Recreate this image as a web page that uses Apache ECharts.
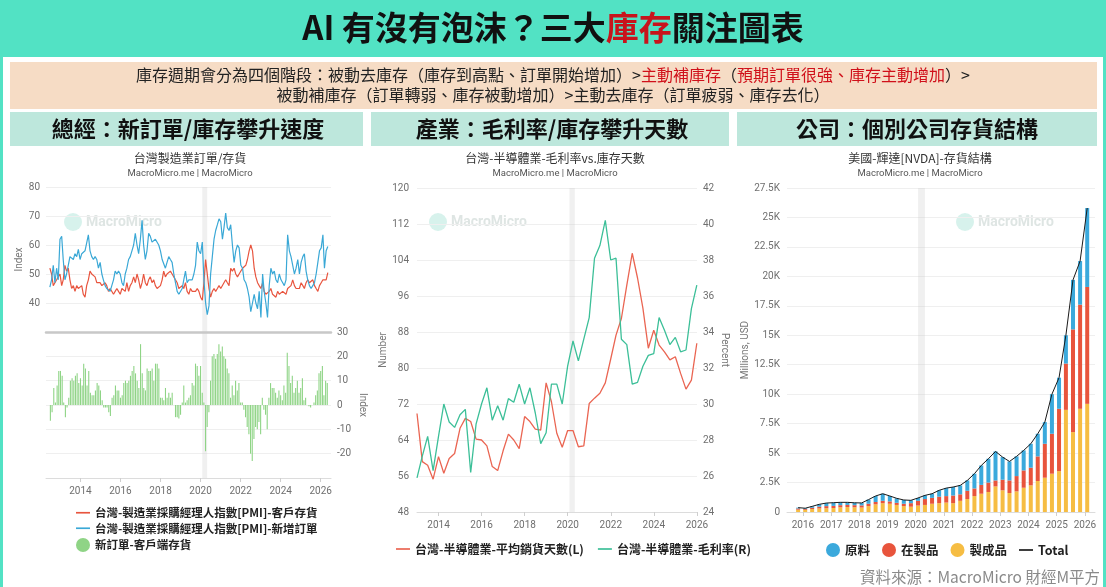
<!DOCTYPE html>
<html><head><meta charset="utf-8">
<script src="https://cdn.jsdelivr.net/npm/echarts@6/dist/echarts.min.js"></script>
<style>html,body{margin:0;padding:0;background:#52e2c4}#c{width:1106px;height:587px}</style>
</head><body><div id="c"></div>
<script>
// ---------- DATA ----------
// Left: Taiwan manufacturing PMI, monthly from 2012-07
const pmiStart = [2012, 7];
const pmiNewOrders = [
 45.5,48,53,47,52,48,
 62,63,55,48,50,53,56,56,55,57,56,58.5,
 55,57,57,58,58,63.5,58,56,55,56,55,52,
 54,50,48,46,45,45,44,46,48,51,50,51,
 50,47,46,50,52,55,56,58,60,64,60,57,
 62,68.5,60,55,58,64,63,61,61,62,62.5,60,
 58,55,55,52,54,56,55,54,50,47,44,43,
 42.5,45,48,51,47,48,47.5,48,50,53,61,58,
 57,61,48,40,36,39,50,56,62,65,67,69,
 68,62,66,71,66,65,67,60,54,58,60,59,
 53,52,48,47,45,42,37,40,43,40,38,44,
 35,50,44,40,35,46,52,50,51,48,47,50,
 48,47,46,48,63.5,58,56,56,50,52,55,50,
 54,56,57,51,48,46,45,46,47,50,54,58,
 59,63.5,52,58,59.5];
const pmiInventory = [
 52,50,46,47,48,49,
 50,46,48,53,51,52,48,45,46,44,46,45,
 45,46,43,42,46,48,51,50,50,49,47,47,
 47,46,46,47,46,44,45,45,43,44,45,44,
 43,45,45,44,47,44,46,47,49,47,50,48,
 45,47,50,47,46,48,49,47,48,46,45,45,
 46,48,51,49,50,50,51,50,49,48,47,45,
 45,46,45,47,44,43,45,44,44,44,45,44,
 42,41,47,55,50,45,42,44,45,44,45,46,
 45,45,47,48,47,46,52,51,52,50,49,50,
 50,52,52,53,55,58,60,58,52,49,47,46,
 45,47,44,43,43,44,45,43,43,42,44,43,
 43,44,44,43,45,45,46,48,46,45,45,45,
 47,46,45,47,48,47,47,48,46,45,44,46,
 47,48,48,48,50.5];
const orderMinusInventory = [
 -6.5,-3,7,1,8,14,
 14,12,1,-5,-1,3,10,11,10,12,13,9,
 11,8,17,15,8,14,5,4,4,6,9,8,
 6,2,-1,-1,-1,-3,-4.5,3,4,8,6,6,
 3,4,9,10,9,10,12,14,16,13,10,7,
 25,13,7,6,15,14,14,15,10,17,17,15,
 3,3,2,7,3,5,3,5,0,-5,-5,-5.5,
 -4,1,8,1,2,3,4,9,8,17,16,12,
 16,5,1,-19,-9,-3,10,20,21,19,21,25,
 22,24,20,19,15,13,3,8,4,10,6,9,
 1,1,-2,-5,-9,-12,-20,-23,-14,-9,-10,-7,
 -12,3,-2,-4,-10,3,9,7,7,5,3,6,
 4,2,8,5,21.5,16,9,12,5,7,10,5,
 7,11,2,3,0,-0.5,-1,0,1,4,6,13,
 14,16,4,10,9];
// Middle: Taiwan semiconductors, quarterly (quarter end) from 2012-12
const semiStart = [2012, 12];
const semiDays = [69.9,59.2,58.4,55.3,60.3,56.6,59.9,61,66.6,68.8,
 68.1,64.2,64,62.7,58.1,57.2,61.6,65.3,64,62.1,
 69.2,68.1,66.4,66.2,76.7,72.5,65.5,62.4,66.1,66.1,
 62.5,62.7,72.1,73.3,74.4,76.7,82,87.3,91,98.4,
 105.5,100,93.3,84.4,88.4,85.1,83.6,81.8,82.5,78.8,
 75.3,77.3,85.5];
const semiMargin = [25.9,27.1,28.2,26.3,28.2,30,29,28.7,29.4,29.7,
 26.2,28.9,30,30.9,29.1,29.9,29.1,30.3,30.1,31.1,
 30,30.9,29.5,27.8,28.4,31.1,31.1,30,32.1,33.5,
 32.4,33.6,34.8,38.1,38.8,40.2,38,38.1,33.6,33.3,
 31.1,31.2,32.1,32.7,32.8,34.8,34.1,33.3,33.7,32.9,
 33,35.3,36.6];
// Right: NVDA inventory (millions USD), quarterly from 2015-10
const nvdaStart = [2015, 10];
const nvdaFinished = [200,180,250,300,320,340,400,420,400,380,500,650,750,700,600,500,450,550,600,700,750,800,750,950,1100,1350,1550,1700,2170,1840,1610,1750,2060,2260,2630,2910,3250,3470,8670,6780,8760,9180];
const nvdaWip = [100,70,110,150,180,180,180,180,180,180,200,200,200,200,180,200,300,400,500,500,550,550,650,550,700,650,750,800,510,900,1070,1300,1470,1500,2090,2880,3390,5290,3930,8720,8840,9920];
const nvdaRaw = [70,70,120,200,260,270,240,220,200,210,350,510,600,460,380,320,240,240,310,350,540,680,720,760,880,1250,1650,2020,2460,1920,1610,1670,1700,2030,1920,1840,3360,2640,2400,4200,3700,6700];
const nvdaTotal = [370,320,480,650,760,790,820,820,780,770,1050,1360,1550,1360,1160,1020,990,1190,1410,1550,1840,2030,2120,2260,2680,3250,3950,4520,5140,4660,4290,4720,5230,5790,6640,7630,10000,11400,15000,19700,21300,25800];
const recession = ['2020-02-01', '2020-04-30'];

// ---------- helpers ----------
const pad = n => String(n).padStart(2, '0');
function dates(start, step, n, monthEnd) {
  const out = [];
  for (let i = 0; i < n; i++) {
    const k = start[1] - 1 + i * step;
    const y = start[0] + Math.floor(k / 12), m = k % 12 + 1;
    const d = monthEnd ? new Date(y, m, 0).getDate() : 1;
    out.push(`${y}-${pad(m)}-${pad(d)}`);
  }
  return out;
}
const pmiDates = dates(pmiStart, 1, pmiNewOrders.length, false);
const semiDates = dates(semiStart, 3, semiDays.length, true);
const nvdaDates = dates(nvdaStart, 3, nvdaTotal.length, true);
const pair = (ds, vs) => ds.map((d, i) => [d, vs[i]]);

const CJK = '"Noto Sans CJK TC","Noto Sans",sans-serif';
const YEAR = 365 * 24 * 3600 * 1000;
const LINE_ICON = 'path://M0,0H20V2.4H0Z';
const yearFmt = v => String(new Date(v).getFullYear());
const band = { silent: true, itemStyle: { color: 'rgba(200,200,200,0.28)' }, data: [[{ xAxis: recession[0] }, { xAxis: recession[1] }]] };
const lbl = { color: '#6f6f6f', fontSize: 10, fontFamily: 'Roboto,sans-serif' };
const split = { show: true, lineStyle: { color: '#efefef', width: 1 } };
const nameStyle = { color: '#777', fontSize: 10, fontFamily: 'Roboto,sans-serif' };

function timeAxis(grid, min, max, step, showLabel) {
  return {
    type: 'time', gridIndex: grid, min, max, minInterval: step, maxInterval: step,
    axisLine: { show: true, onZero: false, lineStyle: { color: '#dcdcdc' } },
    axisTick: { show: showLabel, length: 4, lineStyle: { color: '#cfcfcf' } },
    axisLabel: Object.assign({ show: showLabel, formatter: yearFmt, margin: 8, hideOverlap: false }, lbl),
    splitLine: { show: false }
  };
}

function watermark(x) {
  return [
    { type: 'circle', shape: { cx: x, cy: 222, r: 9 }, style: { fill: 'rgba(110,210,185,0.28)' }, z: -5, silent: true },
    { type: 'text', x: x + 13, y: 222, z: -5, silent: true,
      style: { text: 'MacroMicro', font: 'bold 14px Roboto,sans-serif', fill: 'rgba(160,180,175,0.35)', verticalAlign: 'middle', textVerticalAlign: 'middle' } }
  ];
}
function ctext(x, y, text, font, fill, align) {
  return { type: 'text', x, y, z: 10, silent: true,
    style: { text, font, fill, align: align || 'center', textAlign: align || 'center', verticalAlign: 'middle', textVerticalAlign: 'middle' } };
}

const chart = echarts.init(document.getElementById('c'), null, { width: 1106, height: 587 });
chart.setOption({
  animation: false,
  backgroundColor: '#52e2c4',
  textStyle: { fontFamily: CJK },
  title: [
    { left: 'center', top: 5, padding: 0,
      text: '{a|AI 有沒有泡沫？三大}{r|庫存}{a|關注圖表}',
      textStyle: { rich: {
        a: { fontSize: 33, fontWeight: 'bold', color: '#111', fontFamily: CJK, lineHeight: 44 },
        r: { fontSize: 33, fontWeight: 'bold', color: '#c8141c', fontFamily: CJK, lineHeight: 44 } } } },
    { left: 'center', top: 65, padding: 0,
      text: '{k|庫存週期會分為四個階段：被動去庫存（庫存到高點、訂單開始增加）>}{r|主動補庫存}{k|（}{r|預期訂單很強、庫存主動增加}{k|）>}',
      textStyle: { fontWeight: 'normal', rich: {
        k: { fontSize: 16, fontWeight: 'normal', color: '#222', fontFamily: CJK, lineHeight: 20 },
        r: { fontSize: 16, fontWeight: 'normal', color: '#d0101a', fontFamily: CJK, lineHeight: 20 } } } },
    { left: 'center', top: 85, padding: 0,
      text: '被動補庫存（訂單轉弱、庫存被動增加）>主動去庫存（訂單疲弱、庫存去化）',
      textStyle: { fontSize: 16, color: '#222', fontWeight: 'normal', fontFamily: CJK, lineHeight: 20 } }
  ],
  graphic: { elements: [
    { type: 'rect', shape: { x: 3, y: 57, width: 1100, height: 530 }, style: { fill: '#ffffff' }, z: -20, silent: true },
    { type: 'rect', shape: { x: 10, y: 62, width: 1087, height: 47 }, style: { fill: '#f6dcc5' }, z: -19, silent: true },
    { type: 'rect', shape: { x: 10, y: 112, width: 353, height: 34 }, style: { fill: '#bde7dc' }, z: -19, silent: true },
    { type: 'rect', shape: { x: 371, y: 112, width: 358, height: 34 }, style: { fill: '#bde7dc' }, z: -19, silent: true },
    { type: 'rect', shape: { x: 737, y: 112, width: 360, height: 34 }, style: { fill: '#bde7dc' }, z: -19, silent: true },
    ctext(188, 129, '總經：新訂單/庫存攀升速度', 'bold 22px ' + CJK, '#111'),
    ctext(552, 129, '產業：毛利率/庫存攀升天數', 'bold 22px ' + CJK, '#111'),
    ctext(917, 129, '公司：個別公司存貨結構', 'bold 22px ' + CJK, '#111'),
    ctext(190, 158, '台灣製造業訂單/存貨', '12px ' + CJK, '#333'),
    ctext(190, 174, 'MacroMicro.me | MacroMicro', '9.5px Roboto,sans-serif', '#555'),
    ctext(555, 158, '台灣-半導體業-毛利率vs.庫存天數', '12px ' + CJK, '#333'),
    ctext(555, 174, 'MacroMicro.me | MacroMicro', '9.5px Roboto,sans-serif', '#555'),
    ctext(920, 158, '美國-輝達[NVDA]-存貨結構', '12px ' + CJK, '#333'),
    ctext(920, 174, 'MacroMicro.me | MacroMicro', '9.5px Roboto,sans-serif', '#555'),
    ...watermark(73), ...watermark(438), ...watermark(965),
    ctext(1100, 577, '資料來源：MacroMicro 財經M平方', '15.5px ' + CJK, '#8a8a8a', 'right')
  ] },
  grid: [
    { left: 46, top: 187, width: 285, height: 145, outerBoundsMode: 'none' },
    { left: 46, top: 332, width: 285, height: 146, outerBoundsMode: 'none' },
    { left: 417, top: 188, width: 280, height: 324, outerBoundsMode: 'none' },
    { left: 787, top: 188, width: 308, height: 324, outerBoundsMode: 'none' }
  ],
  xAxis: [
    Object.assign(timeAxis(0, '2012-04-22', '2026-06-28', 2 * YEAR, false),
      { axisLine: { show: true, onZero: false, lineStyle: { color: '#c8c8c8', width: 2.5 } } }),
    timeAxis(1, '2012-04-22', '2026-06-28', 2 * YEAR, true),
    timeAxis(2, semiDates[0], '2026-01-03', 2 * YEAR, true),
    timeAxis(3, '2015-07-05', '2026-04-16', YEAR, true)
  ],
  yAxis: [
    { type: 'value', gridIndex: 0, min: 30, max: 80, interval: 10, position: 'left',
      name: 'Index', nameLocation: 'middle', nameGap: 20, nameRotate: 90, nameTextStyle: nameStyle,
      axisLabel: Object.assign({ showMinLabel: false, margin: 6 }, lbl), splitLine: split, axisLine: { show: false }, axisTick: { show: false } },
    { type: 'value', gridIndex: 1, min: -30, max: 30, interval: 10, position: 'right',
      name: 'Index', nameLocation: 'middle', nameGap: 26, nameRotate: -90, nameTextStyle: nameStyle,
      axisLabel: Object.assign({ showMinLabel: false, margin: 6 }, lbl), splitLine: split, axisLine: { show: false }, axisTick: { show: false } },
    { type: 'value', gridIndex: 2, min: 48, max: 120, interval: 8, position: 'left',
      name: 'Number', nameLocation: 'middle', nameGap: 24, nameRotate: 90, nameTextStyle: nameStyle,
      axisLabel: Object.assign({ margin: 8 }, lbl), splitLine: split, axisLine: { show: false }, axisTick: { show: false } },
    { type: 'value', gridIndex: 2, min: 24, max: 42, interval: 2, position: 'right',
      name: 'Percent', nameLocation: 'middle', nameGap: 22, nameRotate: -90, nameTextStyle: nameStyle,
      axisLabel: Object.assign({ margin: 6 }, lbl), splitLine: { show: false }, axisLine: { show: false }, axisTick: { show: false } },
    { type: 'value', gridIndex: 3, min: 0, max: 27500, interval: 2500, position: 'left',
      name: 'Millions, USD', nameLocation: 'middle', nameGap: 32, nameRotate: 90, nameTextStyle: nameStyle,
      axisLabel: Object.assign({ margin: 7, formatter: v => v === 0 ? '0' : (v / 1000) + 'K' }, lbl),
      splitLine: split, axisLine: { show: false }, axisTick: { show: false } }
  ],
  legend: [
    { orient: 'vertical', left: 76, top: 507, itemWidth: 14, itemHeight: 14, itemGap: 4, padding: 0,
      textStyle: { fontSize: 11.5, fontWeight: 'bold', color: '#222', fontFamily: CJK },
      data: [{ name: '台灣-製造業採購經理人指數[PMI]-客戶存貨', icon: LINE_ICON }, { name: '台灣-製造業採購經理人指數[PMI]-新增訂單', icon: LINE_ICON }, { name: '新訂單-客戶端存貨', icon: 'circle' }] },
    { orient: 'horizontal', left: 396, top: 543, itemWidth: 14, itemHeight: 14, itemGap: 14, padding: 0,
      textStyle: { fontSize: 12, fontWeight: 'bold', color: '#222', fontFamily: CJK },
      data: [{ name: '台灣-半導體業-平均銷貨天數(L)', icon: LINE_ICON }, { name: '台灣-半導體業-毛利率(R)', icon: LINE_ICON }] },
    { orient: 'horizontal', left: 826, top: 543, itemWidth: 14, itemHeight: 14, itemGap: 12, padding: 0,
      textStyle: { fontSize: 12.5, fontWeight: 'bold', color: '#222', fontFamily: CJK },
      data: [{ name: '原料', icon: 'circle' }, { name: '在製品', icon: 'circle' }, { name: '製成品', icon: 'circle' }, { name: 'Total', icon: LINE_ICON }] }
  ],
  series: [
    { name: '台灣-製造業採購經理人指數[PMI]-客戶存貨', type: 'line', xAxisIndex: 0, yAxisIndex: 0, symbol: 'none',
      data: pair(pmiDates, pmiInventory), lineStyle: { width: 1.2, color: '#e8553f' }, itemStyle: { color: '#e8553f' }, markArea: band },
    { name: '台灣-製造業採購經理人指數[PMI]-新增訂單', type: 'line', xAxisIndex: 0, yAxisIndex: 0, symbol: 'none',
      data: pair(pmiDates, pmiNewOrders), lineStyle: { width: 1.2, color: '#3aa8d6' }, itemStyle: { color: '#3aa8d6' } },
    { name: '新訂單-客戶端存貨', type: 'bar', xAxisIndex: 1, yAxisIndex: 1, barWidth: 1.1,
      data: pair(pmiDates, orderMinusInventory), itemStyle: { color: '#8fd486' }, markArea: band },
    { name: '台灣-半導體業-平均銷貨天數(L)', type: 'line', xAxisIndex: 2, yAxisIndex: 2, symbol: 'none',
      data: pair(semiDates, semiDays), lineStyle: { width: 1.3, color: '#ea6552' }, itemStyle: { color: '#ea6552' }, markArea: band },
    { name: '台灣-半導體業-毛利率(R)', type: 'line', xAxisIndex: 2, yAxisIndex: 3, symbol: 'none',
      data: pair(semiDates, semiMargin), lineStyle: { width: 1.3, color: '#3cbf98' }, itemStyle: { color: '#3cbf98' } },
    { name: '製成品', type: 'bar', stack: 'inv', xAxisIndex: 3, yAxisIndex: 4, barWidth: 4,
      data: pair(nvdaDates, nvdaFinished), itemStyle: { color: '#f6bd43' }, markArea: band },
    { name: '在製品', type: 'bar', stack: 'inv', xAxisIndex: 3, yAxisIndex: 4, barWidth: 4,
      data: pair(nvdaDates, nvdaWip), itemStyle: { color: '#e8543c' } },
    { name: '原料', type: 'bar', stack: 'inv', xAxisIndex: 3, yAxisIndex: 4, barWidth: 4,
      data: pair(nvdaDates, nvdaRaw), itemStyle: { color: '#3ba9dc' } },
    { name: 'Total', type: 'line', xAxisIndex: 3, yAxisIndex: 4, symbol: 'none', z: 5,
      data: pair(nvdaDates, nvdaTotal), lineStyle: { width: 1, color: '#1a1a1a' }, itemStyle: { color: '#1a1a1a' } }
  ]
});
</script>
</body></html>
